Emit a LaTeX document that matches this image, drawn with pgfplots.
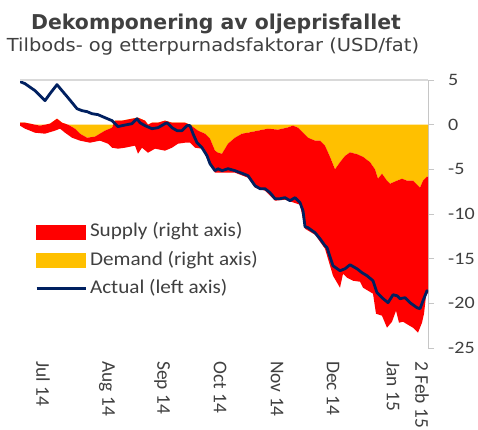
\documentclass[border=0pt]{standalone}
\usepackage{fontspec}
\setmainfont{Carlito}
\newfontfamily\titlefont{DejaVu Sans}
\usepackage{pgfplots}
\pgfplotsset{compat=1.18}
\definecolor{supplyred}{RGB}{255,0,0}
\definecolor{demandgold}{RGB}{255,192,0}
\definecolor{actualnavy}{RGB}{0,32,96}
\definecolor{txt}{RGB}{64,64,64}
\begin{document}
\begin{tikzpicture}
\path[use as bounding box, fill=white] (-20bp,-82bp) rectangle (458bp,348bp);
\begin{axis}[
  at={(0,0)}, anchor=south west,
  scale only axis, width=408bp, height=268bp,
  xmin=0, xmax=408, ymin=-25, ymax=5,
  axis x line=bottom, axis y line=right,
  x axis line style={draw=none,-},
  y axis line style={draw=gray!45, line width=0.8bp,-},
  xtick={23,87,142,200,257,313,373,402},
  xticklabels={Jul 14, Aug 14, Sep 14, Oct 14, Nov 14, Dec 14, Jan 15, 2 Feb 15},
  x tick style={draw=none},
  xticklabel style={rotate=-90, anchor=west, inner sep=0pt, font=\fontsize{19.5}{19.5}\selectfont},
  xticklabel shift=7bp,
  ytick={-25,-20,-15,-10,-5,0,5},
  y tick style={draw=gray!45, line width=0.8bp},
  tick align=outside, major tick length=6bp,
  yticklabel style={anchor=west, inner sep=0pt, font=\fontsize{17.5}{17.5}\selectfont},
  yticklabel shift=14bp,
  yticklabel={\scalebox{1.15}[1]{\pgfmathprintnumber{\tick}}},
  ticklabel style={text=txt},
  /pgf/number format/assume math mode=true,
  legend style={draw=none, fill=none, at={(axis description cs:0.0368,0.4675)}, anchor=north west,
    font=\fontsize{19.5}{19.5}\selectfont, text=txt, row sep=10.3bp, inner sep=0pt,
    nodes={inner sep=0pt, text height=14bp, text depth=4bp},
    /tikz/every odd column/.append style={column sep=3bp}},
  legend cell align=left,
]
% Demand area: between 0 and the upper edge of the supply area
\addplot[fill=demandgold, draw=none, forget plot] coordinates {
(0,0)
(0,0.22) (5,0.22) (20,-0.11) (30,0.11) (37,0.67) (42,0.22) (48,0) (55,-0.45) (60,-1.01)
(67,-1.46) (75,-1.34) (85,-0.67) (92,-0.34) (95,0.45) (102,0.45) (112,0.67) (118,0.78)
(125,0.45) (128,0) (132,0.22) (138,0.22) (145,0.45) (152,0.22) (158,0.22) (165,0.22)
(170,0) (178,-0.67) (185,-1.01) (190,-1.57) (195,-2.91) (198,-3.14) (202,-3.25) (208,-2.13)
(215,-1.46) (222,-1.01) (228,-0.90) (238,-0.67) (248,-0.45) (258,-0.56) (267,-0.34)
(273,-0.11) (278,-0.34) (283,-0.90) (288,-1.46) (295,-1.79) (300,-1.79) (305,-2.35)
(310,-3.60) (315,-5.00) (320,-4.20) (325,-3.50) (330,-3.10) (337,-3.30) (343,-3.60)
(350,-4.20) (355,-5.00) (358,-6.05) (362,-5.49) (367,-6.27) (370,-6.61) (377,-6.27)
(382,-6.05) (387,-6.27) (393,-6.27) (400,-7.05) (403,-6.27) (407,-5.82) (408,-5.82)
(408,0)} -- cycle;
% Supply area: upper edge forward, lower edge backward
\addplot[fill=supplyred, draw=none, forget plot] coordinates {
(0,0.22) (5,0.22) (20,-0.11) (30,0.11) (37,0.67) (42,0.22) (48,0) (55,-0.45) (60,-1.01)
(67,-1.46) (75,-1.34) (85,-0.67) (92,-0.34) (95,0.45) (102,0.45) (112,0.67) (118,0.78)
(125,0.45) (128,0) (132,0.22) (138,0.22) (145,0.45) (152,0.22) (158,0.22) (165,0.22)
(170,0) (178,-0.67) (185,-1.01) (190,-1.57) (195,-2.91) (198,-3.14) (202,-3.25) (208,-2.13)
(215,-1.46) (222,-1.01) (228,-0.90) (238,-0.67) (248,-0.45) (258,-0.56) (267,-0.34)
(273,-0.11) (278,-0.34) (283,-0.90) (288,-1.46) (295,-1.79) (300,-1.79) (305,-2.35)
(310,-3.60) (315,-5.00) (320,-4.20) (325,-3.50) (330,-3.10) (337,-3.30) (343,-3.60)
(350,-4.20) (355,-5.00) (358,-6.05) (362,-5.49) (367,-6.27) (370,-6.61) (377,-6.27)
(382,-6.05) (387,-6.27) (393,-6.27) (400,-7.05) (403,-6.27) (407,-5.82) (408,-5.82)
(408,-18.81) (406,-19.15) (404,-21.16) (402,-22.17) (398,-23.29) (393,-22.73) (388,-22.40)
(383,-22.06) (379,-22.17) (376,-20.83) (372,-22.06) (367,-22.73) (362,-21.39) (356,-21.16)
(353,-18.92) (343,-18.25) (340,-17.58) (333,-17.47) (327,-17.13) (323,-16.69) (320,-18.25)
(313,-16.91) (305,-13.89) (295,-12.32) (285,-11.65) (280,-8.96) (265,-8.40) (255,-8.51)
(245,-7.39) (235,-7.05) (228,-5.94) (215,-5.38) (202,-5.38) (195,-5.38) (188,-4.03)
(182,-2.69) (175,-2.58) (170,-2.02) (165,-2.02) (158,-2.13) (152,-2.58) (145,-2.91)
(135,-2.69) (128,-3.14) (122,-2.58) (118,-3.25) (115,-2.35) (105,-2.58) (98,-2.69)
(92,-2.58) (88,-2.13) (80,-1.79) (70,-2.02) (60,-1.79) (52,-1.46) (45,-0.90) (40,-0.45)
(35,-0.67) (25,-1.01) (15,-0.90) (5,-0.45) (0,-0.11)} -- cycle;
\addplot[actualnavy, line width=2.8bp, line join=round, forget plot] coordinates {
(0,4.82) (5,4.59) (15,3.81) (25,2.69) (30,3.47) (37,4.48) (42,3.81) (48,3.02) (57,1.79)
(62,1.57) (67,1.46) (72,1.23) (78,1.12) (85,0.78) (92,0.45) (98,-0.22) (102,-0.11)
(112,0.11) (117,0.67) (120,0.22) (125,-0.11) (132,-0.45) (138,-0.34) (145,0.11) (147,0.22)
(152,-0.34) (157,-0.67) (162,-0.67) (167,-0.11) (170,-0.11) (173,-1.01) (177,-2.02)
(182,-2.58) (187,-3.47) (190,-4.37) (195,-5.15) (198,-4.93) (202,-5.15) (208,-4.93)
(215,-5.15) (223,-5.49) (228,-5.71) (235,-6.83) (240,-7.17) (245,-7.17) (250,-7.61)
(255,-8.29) (260,-8.29) (265,-8.17) (270,-8.51) (275,-8.17) (280,-8.73) (283,-9.63)
(285,-11.42) (288,-11.53) (295,-12.09) (300,-12.77) (305,-13.55) (307,-13.77) (313,-15.79)
(320,-16.35) (325,-16.13) (330,-15.68) (337,-16.13) (342,-16.57) (347,-16.91) (353,-17.47)
(357,-18.81) (362,-19.37) (368,-19.93) (373,-19.04) (377,-19.15) (380,-19.48) (385,-19.37)
(390,-19.93) (397,-20.49) (400,-20.60) (403,-19.71) (407,-18.59) (408,-18.70)};
\addlegendimage{legend image code/.code={\fill[supplyred] (0bp,-7bp) rectangle (49bp,7bp);}}
\addlegendentry{\scalebox{1.09}[1]{Supply (right axis)}}
\addlegendimage{legend image code/.code={\fill[demandgold] (0bp,-7bp) rectangle (49bp,7bp);}}
\addlegendentry{\scalebox{1.09}[1]{Demand (right axis)}}
\addlegendimage{legend image code/.code={\draw[actualnavy, line width=2.8bp] (0bp,0bp) -- (49bp,0bp);}}
\addlegendentry{\scalebox{1.09}[1]{Actual (left axis)}}
\draw[gray!30, line width=1.2bp] (rel axis cs:0,1) -- (rel axis cs:1,1);
\end{axis}
\node[font=\titlefont\bfseries\fontsize{20.5}{20.5}\selectfont, text=txt, anchor=base] at (196bp,318bp) {Dekomponering av oljeprisfallet};
\node[font=\titlefont\fontsize{18}{18}\selectfont, text=txt, anchor=base] at (193bp,296.3bp) {\scalebox{1.085}[1]{Tilbods- og etterpurnadsfaktorar (USD/fat)}};
\end{tikzpicture}
\end{document}
